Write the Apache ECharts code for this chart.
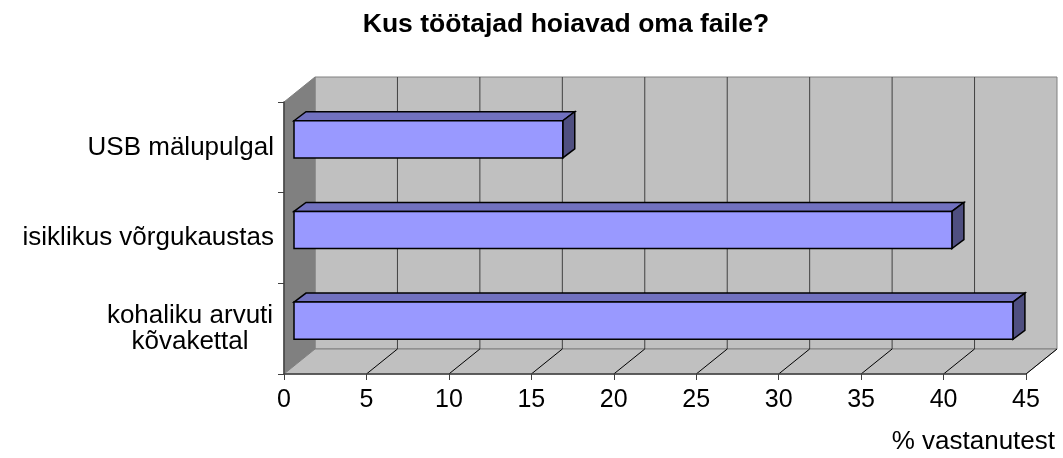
<!DOCTYPE html>
<html>
<head>
<meta charset="utf-8">
<script src="https://cdn.jsdelivr.net/npm/echarts@6/dist/echarts.min.js"></script>
<style>html,body{margin:0;padding:0;background:#fff}#c{width:1063px;height:458px}</style>
</head>
<body>
<div id="c"></div>
<script>
const titleText = 'Kus töötajad hoiavad oma faile?';
const categories = ['USB mälupulgal', 'isiklikus võrgukaustas', 'kohaliku arvuti\nkõvakettal'];
const values = [16.3, 39.9, 43.6];
const xTicks = [0, 5, 10, 15, 20, 25, 30, 35, 40, 45];
const axisTitle = '% vastanutest';

const FONT = '"Liberation Sans", Arial, sans-serif';
const DX = 31, DY = -25;       // depth of the 3D box
const FX = 10, FY = -8;        // bar front face offset
const TX = 12, TY = -9;        // bar depth

const chart = echarts.init(document.getElementById('c'), null, {renderer: 'canvas'});

function wallsRender(params, api) {
  if (params.dataIndex !== 0) return null;
  const cs = params.coordSys;
  const L = cs.x, T = cs.y, R = cs.x + cs.width, B = cs.y + cs.height;
  const children = [];
  children.push({type: 'rect', shape: {x: L + DX, y: T + DY, width: cs.width, height: cs.height},
    style: {fill: '#c0c0c0', stroke: '#808080', lineWidth: 1}});
  children.push({type: 'polygon', shape: {points: [[L, T], [L + DX, T + DY], [L + DX, B + DY], [L, B]]},
    style: {fill: '#808080', stroke: '#808080', lineWidth: 1}});
  children.push({type: 'polygon', shape: {points: [[L, B], [L + DX, B + DY], [R + DX, B + DY], [R, B]]},
    style: {fill: '#c0c0c0', stroke: '#808080', lineWidth: 1}});
  xTicks.forEach(function (v) {
    const px = api.coord([v, 0])[0];
    if (v > xTicks[0] && v < xTicks[xTicks.length - 1]) {
      children.push({type: 'line', shape: {x1: px + DX, y1: T + DY, x2: px + DX, y2: B + DY},
        style: {stroke: '#404040', lineWidth: 1}});
    }
    if (v > xTicks[0]) {
      children.push({type: 'line', shape: {x1: px, y1: B, x2: px + DX, y2: B + DY},
        style: {stroke: '#000', lineWidth: 1}});
    }
  });
  return {type: 'group', children: children};
}

function barRender(params, api) {
  const cat = api.value(1);
  const p0 = api.coord([0, cat]);
  const p1 = api.coord([api.value(0), cat]);
  const band = api.size([0, 1])[1];
  const h = band * 0.41;
  const x0 = p0[0] + FX, x1 = p1[0] + FX;
  const yT = p0[1] + FY - h / 2, yB = yT + h;
  const st = {stroke: '#000', lineWidth: 1.5, lineJoin: 'miter'};
  return {type: 'group', children: [
    {type: 'polygon', shape: {points: [[x0, yT], [x0 + TX, yT + TY], [x1 + TX, yT + TY], [x1, yT]]},
      style: Object.assign({fill: '#7171bf'}, st)},
    {type: 'polygon', shape: {points: [[x1, yT], [x1 + TX, yT + TY], [x1 + TX, yB + TY], [x1, yB]]},
      style: Object.assign({fill: '#4f4f80'}, st)},
    {type: 'rect', shape: {x: x0, y: yT, width: x1 - x0, height: h},
      style: Object.assign({fill: '#9999ff'}, st)}
  ]};
}

chart.setOption({
  animation: false,
  backgroundColor: '#fff',
  textStyle: {fontFamily: FONT},
  title: {text: titleText, left: 561, textAlign: 'center', top: 6,
    textStyle: {fontSize: 26.5, fontWeight: 'bold', color: '#000', fontFamily: FONT}},
  grid: {left: 284, right: 37, top: 102, bottom: 84, containLabel: false},
  xAxis: {
    type: 'value', min: xTicks[0], max: xTicks[xTicks.length - 1], interval: 5, z: 5,
    axisLine: {show: true, lineStyle: {color: '#404040', width: 1.5}},
    axisTick: {show: true, length: 6, lineStyle: {color: '#404040'}},
    axisLabel: {fontSize: 25, color: '#000', margin: 14, fontFamily: FONT},
    splitLine: {show: false}
  },
  yAxis: {
    type: 'category', data: categories, inverse: true, z: 5,
    axisLine: {show: true, lineStyle: {color: '#404040', width: 1.5}},
    axisTick: {show: true, length: 6, lineStyle: {color: '#404040'}},
    axisLabel: {fontSize: 26, color: '#000', margin: 10, fontFamily: FONT, lineHeight: 26,
      formatter: function (v) {
        return v.indexOf('\n') >= 0 ? v.split('\n').map(function (s) { return '{c|' + s + '}'; }).join('\n') : v;
      },
      rich: {c: {fontSize: 26, width: 168, align: 'center', lineHeight: 26, color: '#000', fontFamily: FONT}}
    },
    splitLine: {show: false}
  },
  graphic: [{type: 'text', right: 8, top: 429,
    style: {text: axisTitle, fontSize: 26, fill: '#000', fontFamily: FONT}}],
  series: [
    {type: 'custom', z: 1, renderItem: wallsRender, data: [[0, 0]], silent: true},
    {type: 'custom', z: 3, renderItem: barRender, data: values.map(function (v, i) { return [v, i]; })}
  ]
});
</script>
</body>
</html>
